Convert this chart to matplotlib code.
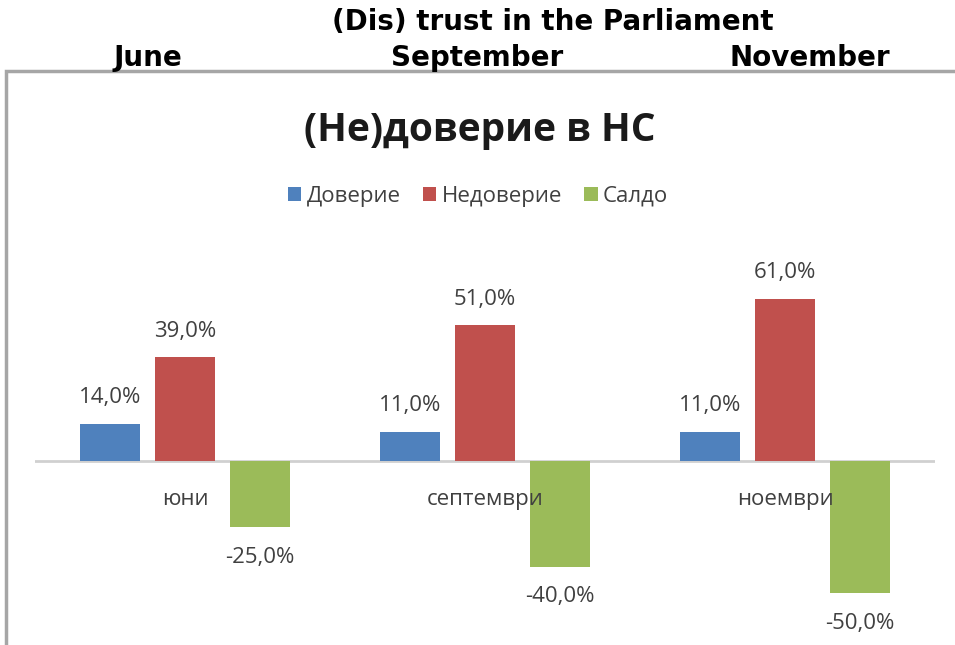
import numpy as np
import matplotlib.pyplot as plt
from matplotlib.patches import Rectangle

# data
months_bg = ['юни', 'септември', 'ноември']
months_en = ['June', 'September', 'November']
series = ['Доверие', 'Недоверие', 'Салдо']
trust = [14.0, 11.0, 11.0]
distrust = [39.0, 51.0, 61.0]
balance = [-25.0, -40.0, -50.0]
colors = ['#4F81BD', '#C0504D', '#9BBB59']

plt.rcParams['font.family'] = ['Open Sans', 'DejaVu Sans']

fig = plt.figure(figsize=(9.55, 6.45), dpi=100)
W, H = 955, 645

# header above the embedded chart
fig.text(553 / W, 1 - 22 / H, '(Dis) trust in the Parliament', ha='center', va='center',
         fontsize=20, fontweight='bold', family='DejaVu Sans', color='black')
for xpix, m in zip([148, 477, 810], months_en):
    fig.text(xpix / W, 1 - 58 / H, m, ha='center', va='center',
             fontsize=20, fontweight='bold', family='DejaVu Sans', color='black')

# frame of embedded chart
fig.patches.append(Rectangle((6 / W, -0.05), 1.1, 1 - 71 / H + 0.05, transform=fig.transFigure,
                             fill=False, edgecolor='#a6a6a6', linewidth=2.5))

ax = fig.add_axes([35 / W, 25 / H, 900 / W, 345 / H])
x = np.arange(len(months_bg))
w = 0.2
step = 0.25
for i, (vals, c, name) in enumerate(zip([trust, distrust, balance], colors, series)):
    pos = x + (i - 1) * step
    ax.bar(pos, vals, width=w, color=c, label=name)
    for p, v in zip(pos, vals):
        txt = f'{v:.1f}%'.replace('.', ',')
        off = 26 if v >= 0 else -30
        ax.annotate(txt, (p, v), xytext=(0, off), textcoords='offset pixels',
                    ha='center', va='center', fontsize=16, color='#404040')

ax.set_xlim(-0.5, 2.5)
ax.set_ylim(-60, 70)
ax.axhline(0, color='#d0d0d0', linewidth=2, zorder=0.5)
for s in ax.spines.values():
    s.set_visible(False)
ax.set_yticks([])
ax.set_xticks(x)
ax.set_xticklabels(months_bg)
ax.spines['bottom'].set_position(('data', 0))
ax.tick_params(axis='x', length=0, pad=20, labelsize=16, labelcolor='#404040')

fig.text(480 / W, 1 - 131 / H, '(Не)доверие в НС', ha='center', va='center',
         fontsize=28, fontweight='bold', color='#1a1a1a')

handles, labels = ax.get_legend_handles_labels()
fig.legend(handles, labels, loc='center', bbox_to_anchor=(478 / W, 1 - 196 / H), ncol=3,
           frameon=False, fontsize=16, labelcolor='#404040', handlelength=0.6,
           handleheight=0.6, handletextpad=0.25, columnspacing=1.0)

fig.savefig('out.png', dpi=100, facecolor='white')
